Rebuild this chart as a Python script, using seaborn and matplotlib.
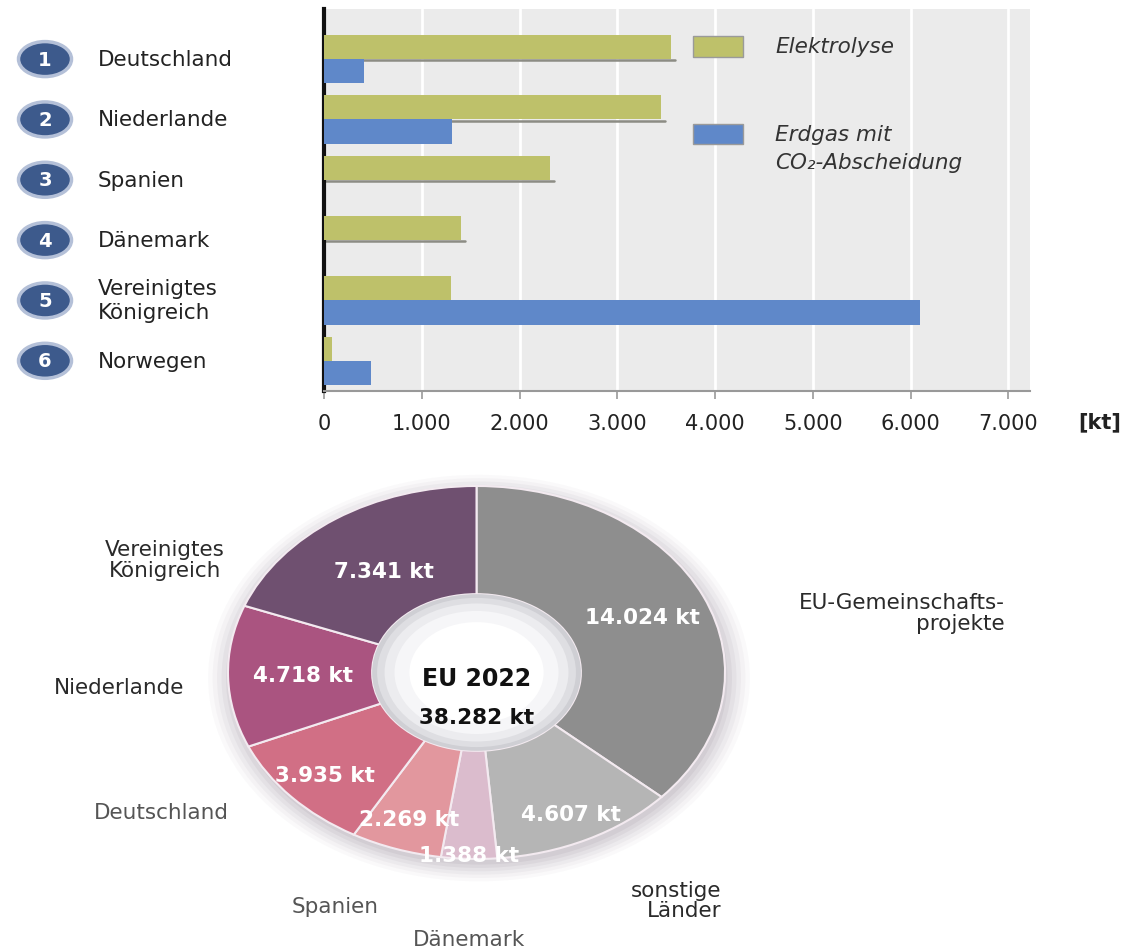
import numpy as np
import pandas as pd
import seaborn as sns
import matplotlib.pyplot as plt
from matplotlib.patches import Ellipse, Rectangle
from matplotlib import transforms

# Data: Wasserstoffproduktion nach Land und Verfahren [kt]
laender = ["Deutschland", "Niederlande", "Spanien", "Dänemark",
           "Vereinigtes\nKönigreich", "Norwegen"]
elektrolyse = [3550, 3450, 2310, 1400, 1300, 80]
erdgas_ccs = [410, 1310, 0, 0, 6100, 480]
verfahren = ["Elektrolyse", "Erdgas mit\nCO₂-Abscheidung"]
x_ticks = [0, 1000, 2000, 3000, 4000, 5000, 6000, 7000]
x_ticklabels = ["0", "1.000", "2.000", "3.000", "4.000", "5.000", "6.000", "7.000"]

# Donut: EU 2022
pie_labels = ["EU-Gemeinschafts-\nprojekte", "sonstige\nLänder", "Dänemark", "Spanien",
              "Deutschland", "Niederlande", "Vereinigtes\nKönigreich"]
pie_values = [14024, 4607, 1388, 2269, 3935, 4718, 7341]
center_title = "EU 2022"
center_total = "38.282 kt"

# styles
c_green = "#bec16a"
c_blue = "#5f88c9"
pie_colors = ["#8e8e8e", "#b5b5b5", "#dbbccd", "#e2979e", "#d16f85", "#aa5480", "#6f5070"]
val_radius = [0.73, 0.85, 0.98, 0.83, 0.82, 0.70, 0.66]
lab_pos = [(2.125, 0.32, "right"), (0.986, -1.22, "right"), (-0.03, -1.43, "center"),
           (-0.57, -1.25, "center"), (-1.27, -0.75, "center"), (-1.44, -0.08, "center"),
           (-1.255, 0.606, "center")]
lab_col = ["#2a2a2a", "#2a2a2a", "#555555", "#555555", "#555555", "#2a2a2a", "#2a2a2a"]

sns.set_theme(style="white")
plt.rcParams['font.family'] = ['DejaVu Sans']

fig = plt.figure(figsize=(11.4, 9.53), dpi=100)

# ---------------- Balkendiagramm ----------------
df = pd.DataFrame({
    "Land": laender * 2,
    "kt": elektrolyse + erdgas_ccs,
    "Verfahren": [verfahren[0]] * len(laender) + [verfahren[1]] * len(laender),
})

ax = fig.add_axes([0.2842, 0.5887, 0.6193, 0.4008])
ax.set_facecolor("#ebebeb")
sns.barplot(data=df, x="kt", y="Land", hue="Verfahren", orient="h",
            palette=[c_green, c_blue], width=0.8, saturation=1, linewidth=0,
            errorbar=None, legend=False, ax=ax, zorder=3)

# shadow line under the green bars
for bar in ax.containers[0]:
    w = bar.get_width()
    if w > 200:
        y = bar.get_y() + bar.get_height()
        ax.plot([0, w + 40], [y + 0.02, y + 0.02], color="#8c8c84", lw=1.8, zorder=2.5)

ax.set_xlim(0, 7220)
ax.set_ylim(5.5, -0.83)
ax.set_xticks(x_ticks)
ax.set_xticklabels(x_ticklabels, fontsize=15, color="#222222")
ax.set_yticks([])
ax.set_xlabel("")
ax.set_ylabel("")
ax.grid(axis="x", color="white", lw=2, zorder=0)
ax.set_axisbelow(True)
ax.tick_params(axis="x", length=6, width=1.2, color="#999999", pad=10, direction="out", bottom=True)
for s in ["top", "right"]:
    ax.spines[s].set_visible(False)
ax.spines["left"].set_color("#111111")
ax.spines["left"].set_linewidth(3)
ax.spines["bottom"].set_color("#999999")
ax.spines["bottom"].set_linewidth(1.5)

fig.text(1100 / 1140, 1 - 422 / 953, "[kt]", fontsize=15, fontweight="bold",
         ha="center", va="center", color="#222222")

# numbered circles and country names
trans = transforms.blended_transform_factory(fig.transFigure, ax.transData)
for i, land in enumerate(laender):
    ax.add_patch(Ellipse((45 / 1140, i), 53 / 1140, 0.58, transform=trans,
                         facecolor="#3d5a8c", edgecolor="#b4c0d8", lw=2.5, clip_on=False))
    ax.text(45 / 1140, i, str(i + 1), transform=trans, ha="center", va="center",
            fontsize=14, fontweight="bold", color="white")
    ax.text(98 / 1140, i, land, transform=trans, ha="left", va="center",
            fontsize=15.5, color="#222222", linespacing=1.25)

# legend
for (y0, y1), col, lab, ty in [((37, 58), c_green, verfahren[0], 47),
                              ((125, 145), c_blue, verfahren[1], 149)]:
    fig.patches.append(Rectangle((693 / 1140, 1 - y1 / 953), 50 / 1140, (y1 - y0) / 953,
                                 transform=fig.transFigure, facecolor=col,
                                 edgecolor="#9a9a9a", lw=1))
    fig.text(775 / 1140, 1 - ty / 953, lab, fontsize=15.5, style="italic",
             color="#333333", ha="left", va="center", linespacing=1.5)

# ---------------- Donut ----------------
ax2 = fig.add_axes([0.2, 0.0976, 0.436, 0.3914])

# soft shadow around the ring
for k, a in zip(np.linspace(1.09, 1.0, 6), [0.03, 0.04, 0.05, 0.06, 0.07, 0.08]):
    ax2.add_patch(Ellipse((0.01, -0.03), 2 * k, 2 * k, facecolor="#6a5a70", alpha=a,
                          lw=0, clip_on=False))

wedges, _ = ax2.pie(pie_values, colors=pie_colors, startangle=90, counterclock=False,
                    wedgeprops=dict(width=0.58, edgecolor="#f3eaf0", linewidth=1.5))
ax2.set_aspect("auto")
ax2.set_xlim(-1, 1)
ax2.set_ylim(-1, 1)
ax2.axis("off")

# center "sphere"
for r, col in [(0.42, "#cfcfd4"), (0.40, "#dedee2"), (0.37, "#ececef"),
               (0.33, "#f6f6f8"), (0.27, "#ffffff")]:
    ax2.add_patch(Ellipse((0, 0), 2 * r, 2 * r, facecolor=col, lw=0, zorder=3))
ax2.text(0, -0.03, center_title, ha="center", va="center", fontsize=17,
         fontweight="bold", color="#111111", zorder=4)
ax2.text(0, -0.24, center_total, ha="center", va="center", fontsize=15.5,
         fontweight="bold", color="#111111", zorder=4)

# value labels and outer labels
total = sum(pie_values)
start = 90.0
for val, rr, lab, (lx, ly, ha), lc in zip(pie_values, val_radius, pie_labels, lab_pos, lab_col):
    span = val / total * 360
    mid = np.deg2rad(start - span / 2)
    start -= span
    txt = f"{val:,}".replace(",", ".") + " kt"
    ax2.text(rr * np.cos(mid), rr * np.sin(mid), txt, ha="center", va="center",
             fontsize=15.5, fontweight="bold", color="white", zorder=5)
    ax2.text(lx, ly, lab, ha=ha, va="center", fontsize=15.5, color=lc,
             multialignment=ha if ha != "center" else "center", linespacing=1.05,
             clip_on=False)

plt.savefig("out.png", dpi=100)
plt.close()
